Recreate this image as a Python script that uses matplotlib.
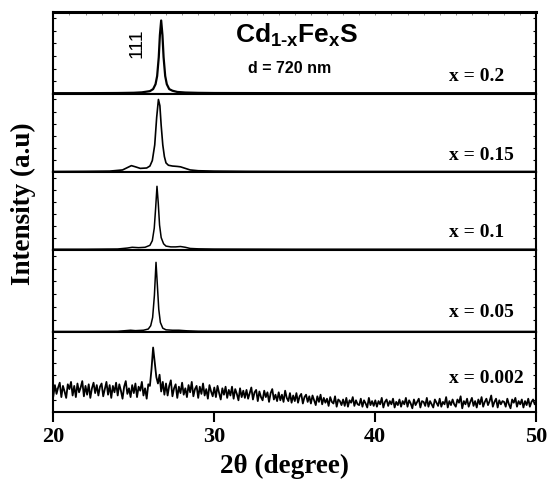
import numpy as np
import matplotlib
matplotlib.use("Agg")
import matplotlib.pyplot as plt

plt.rcParams.update({
    'font.family': 'Liberation Serif',
    'font.weight': 'bold',
    'mathtext.fontset': 'custom',
    'mathtext.rm': 'Liberation Sans:bold',
    'mathtext.it': 'Liberation Sans:bold',
    'mathtext.bf': 'Liberation Sans:bold',
})

# composition labels, top panel first
labels = ["x = 0.2", "x = 0.15", "x = 0.1", "x = 0.05", "x = 0.002"]

# smooth scans: 2theta (deg) and intensity (% of panel height)
tt_02 = [20, 22, 24, 25, 25.5, 26.0, 26.2, 26.35, 26.45, 26.55, 26.62, 26.7,
         26.78, 26.85, 26.95, 27.05, 27.2, 27.4, 27.7, 28.2, 29, 30, 35, 40, 45, 50]
int_02 = [1, 1, 1.2, 1.5, 2, 3.5, 6, 12, 22, 45, 72, 90,
          72, 45, 22, 12, 6, 4, 2.5, 1.8, 1.4, 1.2, 1, 1, 1, 1]

tt_015 = [20, 22, 23.5, 24.3, 24.6, 24.85, 25.1, 25.4, 25.8, 26.0, 26.15, 26.3,
          26.42, 26.53, 26.62, 26.7, 26.8, 26.9, 27.0, 27.15, 27.4, 27.7, 27.9,
          28.2, 28.5, 29, 30, 32, 35, 40, 45, 50]
int_015 = [1, 1.2, 1.5, 3, 6, 8.5, 7, 5, 5.5, 8, 15, 35,
           70, 93, 85, 60, 35, 20, 12, 9, 8, 7.5, 7,
           5, 3, 2, 1.5, 1.2, 1, 1, 1, 1]

tt_01 = [20, 22, 24, 24.6, 24.9, 25.3, 25.7, 26.0, 26.15, 26.27, 26.36, 26.44,
         26.52, 26.6, 26.7, 26.85, 27.0, 27.3, 27.6, 27.9, 28.2, 28.5, 29, 30,
         35, 40, 45, 50]
int_01 = [1, 1, 1.3, 2.5, 3.5, 3, 3.5, 6, 12, 28, 55, 82,
          60, 32, 16, 8, 5, 4, 4, 4.5, 3.5, 2, 1.5, 1.2,
          1, 1, 1, 1]

tt_005 = [20, 22, 24, 24.8, 25.1, 25.6, 25.9, 26.05, 26.17, 26.28, 26.38,
          26.47, 26.55, 26.65, 26.8, 27.0, 27.4, 27.8, 28.3, 29, 30, 35, 40, 45, 50]
int_005 = [1, 1, 1.2, 2.5, 2, 2.5, 4, 8, 18, 45, 85,
           55, 28, 12, 5, 3, 2.5, 2.5, 1.8, 1.3, 1.2, 1, 1, 1, 1]

# noisy scan x = 0.002, 20-50 deg in 0.1 deg steps
int_0002 = [
    20, 34, 23, 31, 37, 19, 33, 26, 18, 35,
    29, 38, 21, 33, 19, 36, 25, 31, 39, 20,
    33, 22, 35, 18, 30, 37, 24, 34, 21, 32,
    36, 20, 29, 38, 22, 34, 18, 33, 25, 37,
    21, 35, 27, 17, 32, 39, 23, 30, 19, 34,
    24, 36, 19, 32, 27, 38, 21, 30, 17, 35,
    33, 54, 81, 63, 44, 36, 47, 26, 38, 22,
    36, 21, 33, 40, 20, 30, 35, 18, 32, 24,
    37, 22, 30, 19, 34, 25, 38, 20, 29, 33,
    18, 32, 23, 36, 21, 29, 17, 34, 26, 20,
    31, 19, 33, 24, 16, 30, 22, 32, 18, 28,
    21, 32, 17, 29, 23, 15, 30, 19, 27, 18,
    28, 17, 24, 31, 16, 25, 28, 14, 26, 19,
    15, 27, 19, 25, 13, 24, 29, 16, 22, 14,
    25, 15, 22, 13, 27, 18, 14, 24, 12, 21,
    14, 24, 12, 20, 23, 11, 19, 22, 13, 20,
    11, 21, 15, 9, 20, 13, 22, 10, 18, 12,
    17, 8, 19, 13, 11, 20, 7, 16, 14, 9,
    16, 8, 18, 7, 15, 12, 19, 8, 15, 10,
    9, 17, 7, 15, 11, 6, 18, 9, 14, 8,
    15, 7, 14, 10, 18, 6, 13, 16, 8, 14,
    10, 17, 6, 13, 9, 16, 7, 14, 10, 18,
    7, 15, 11, 5, 16, 9, 13, 17, 6, 14,
    13, 8, 18, 7, 14, 10, 6, 16, 12, 8,
    17, 7, 13, 10, 19, 6, 14, 9, 16, 10,
    7, 16, 12, 20, 5, 14, 10, 17, 7, 13,
    18, 8, 14, 6, 16, 10, 19, 7, 13, 17,
    9, 14, 21, 7, 13, 17, 6, 15, 10, 14,
    13, 7, 17, 10, 5, 16, 12, 18, 7, 14,
    10, 16, 6, 14, 9, 17, 7, 13, 16, 10,
    14,
]
tt_0002 = np.linspace(20, 50, len(int_0002))

scans = [(tt_02, int_02), (tt_015, int_015), (tt_01, int_01),
         (tt_005, int_005), (tt_0002, int_0002)]

W, H = 548, 481
fig = plt.figure(figsize=(W / 100, H / 100), dpi=100)
gs = fig.add_gridspec(5, 1, height_ratios=[81.7, 78.3, 77.7, 82.3, 80],
                      left=53.3 / W, right=536.3 / W,
                      top=1 - 13.3 / H, bottom=1 - 413.3 / H, hspace=0)

label_y = [0.171, 0.176, 0.18, 0.198, 0.375]
line_w = [1.6, 1.2, 1.1, 1.1, 1.3]

axes = []
for i, (tt, inten) in enumerate(scans):
    ax = fig.add_subplot(gs[i])
    axes.append(ax)
    ax.plot(tt, inten, color='black', lw=line_w[i])
    ax.set_xlim(20, 50)
    ax.set_ylim(0, 100)
    ax.set_yticks(np.arange(15.5, 100, 15.5))
    ax.tick_params(axis='y', left=True, right=True, direction='in',
                   length=2.5, width=0.8, labelleft=False)
    for s in ax.spines.values():
        s.set_linewidth(1.5)
    ax.text(0.819, label_y[i], labels[i], transform=ax.transAxes,
            fontsize=14, fontweight='bold', va='baseline', ha='left')
    if i < 4:
        ax.tick_params(axis='x', bottom=False, labelbottom=False)
    if i == 0:
        ax.spines['top'].set_linewidth(2.2)
        ax.set_xticks([])
        ax.set_xticks(np.arange(21, 50, 1), minor=True)
        ax.tick_params(axis='x', which='minor', top=True, bottom=False,
                       direction='in', length=2, width=0.6, color='0.5')

bot = axes[-1]
bot.set_xticks([20, 30, 40, 50])
bot.tick_params(axis='x', direction='out', length=7, width=1.5,
                labelsize=16, pad=3)
for t in bot.get_xticklabels():
    t.set_fontweight('bold')

fig.text(284 / W, 1 - 473 / H, "2θ (degree)", fontsize=19.5, fontweight='bold',
         ha='center', va='baseline')
fig.text(23 / W, 1 - 204 / H, "Intensity (a.u)", fontsize=19.5,
         fontweight='bold', rotation=90, ha='center', va='center')

fig.text(297 / W, 1 - 43 / H,
         r'$\mathrm{Cd}_{\mathrm{1\text{-}x}}\mathrm{Fe}_{\mathrm{x}}\mathrm{S}$',
         fontsize=19, ha='center', va='baseline')
fig.text(290 / W, 1 - 72.7 / H, "d = 720 nm", family='Liberation Sans',
         fontsize=11.5, fontweight='bold', ha='center', va='baseline')
fig.text(137 / W, 1 - 43 / H, "111", family='Liberation Sans',
         fontweight='normal', fontsize=14, rotation=90, ha='center', va='center')

fig.savefig("out.png", dpi=100)
